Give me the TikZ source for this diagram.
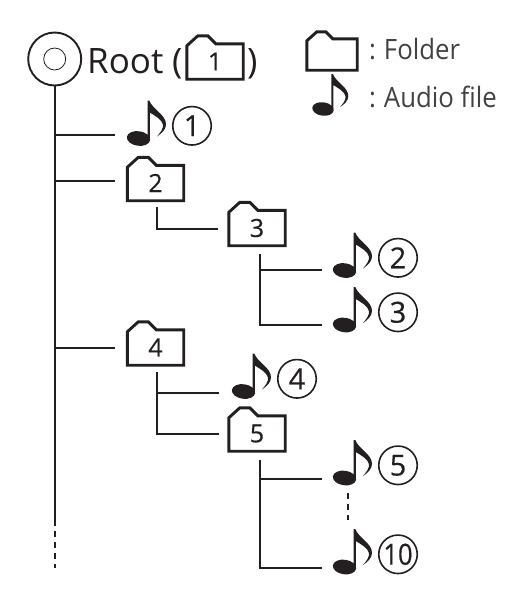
\documentclass[tikz,border=0pt]{standalone}
\usepackage{fontspec}
\setmainfont{Open Sans}
\definecolor{ink}{HTML}{231F20}
\tikzset{
  x=1pt,y=-1pt,
  line/.style={draw=ink,line width=2.2pt},
  linkdash/.style={draw=ink,line width=2.2pt,dash pattern=on 6pt off 5pt},
  outline/.style={draw=ink,line width=2.9pt,line join=miter,fill=white},
  foldernode/.style={inner sep=0pt,minimum width=56pt,minimum height=35pt,font=\fontsize{25}{27}\selectfont\addfontfeature{FakeBold=0.4},text=ink},
  notenode/.style={inner sep=0pt,minimum width=23pt,minimum height=15pt},
  numnode/.style={circle,draw=ink,line width=1.6pt,inner sep=0pt,minimum size=38.5pt,font=\fontsize{29}{31}\selectfont\addfontfeature{FakeBold=0.4},text=ink},
  legendtext/.style={anchor=base west,inner sep=0pt,font=\fontsize{28}{30}\selectfont\addfontfeature{FakeStretch=0.92},text=ink!85},
}
\newcommand{\foldershape}[1]{%
  \path[outline] (#1.south west) -- ([yshift=-2pt]#1.north west) -- ([xshift=11pt,yshift=8pt]#1.north west)
    -- ([xshift=21pt,yshift=8pt]#1.north west) -- ([xshift=29pt]#1.north west) -- (#1.north east) -- (#1.south east) -- cycle;}
\newcommand{\tfolder}[4]{\node[foldernode] (#1tmp) at (#2,#3) {};\foldershape{#1tmp}\node[foldernode] (#1) at (#2,#3) {#4};}
\newcommand{\notegl}[3][1]{%
  \begin{scope}[shift={(#2,#3)},scale=#1]
    \fill[ink,rotate=-8] (0,0) ellipse [x radius=11.7,y radius=7.3];
    \fill[ink] (9.2,0) -- (9.2,-38) -- (10.8,-38)
      .. controls (14,-29) and (27.5,-24) .. (27.5,-14)
      .. controls (27.5,-9) and (23,-5) .. (18.5,-2)
      .. controls (22,-6) and (25,-10) .. (24.5,-14)
      .. controls (23.5,-19) and (16,-23) .. (11.3,-26) -- (11.3,0) -- cycle;
  \end{scope}}
\newcommand{\tnote}[5]{%
  \node[notenode] (#1) at (#2,#3) {};\notegl{#2}{#3}
  \node[numnode] (#1c) at (#4,#3-12.7) {#5};}
\begin{document}
\begin{tikzpicture}
\useasboundingbox (0,0) rectangle (522,608);
% root
\node[circle,draw=ink,line width=1.9pt,minimum size=53pt,inner sep=0pt] (root) at (54.7,59) {};
\node[circle,draw=ink,line width=0.8pt,minimum size=22pt,inner sep=0pt] (rooti) at (54.7,59) {};
\node[anchor=base west,inner sep=0pt,font=\fontsize{35}{37}\selectfont,text=ink] (roottxt) at (87,73) {Root};
\node[anchor=base west,inner sep=0pt,font=\fontsize{35}{37}\selectfont,text=ink] (lp) at (172,73) {(};
\node[anchor=base west,inner sep=0pt,font=\fontsize{35}{37}\selectfont,text=ink] (rp) at (247,73) {)};
\tfolder{f1}{215}{61.5}{1}
% legend
\node[inner sep=0pt,minimum width=50pt,minimum height=31pt] (lf) at (332,54.5) {};
\path[outline] (lf.south west) -- ([yshift=-2pt]lf.north west) -- ([xshift=10pt,yshift=7pt]lf.north west)
  -- ([xshift=19pt,yshift=7pt]lf.north west) -- ([xshift=26pt]lf.north west) -- (lf.north east) -- (lf.south east) -- cycle;
\node[notenode] (ln) at (323,109) {};
\notegl[0.92]{323}{109}
\node[legendtext] (lt1) at (369,59) {:\hspace{-1pt} Folder};
\node[legendtext] (lt2) at (369,107) {:\hspace{-1pt} Audio file};
% notes and folders
\tnote{n1}{138.5}{138.5}{192}{1}
\tfolder{f2}{155.5}{183}{2}
\tfolder{f3}{257}{228}{3}
\tnote{n2}{344.5}{270.5}{398}{2}
\tnote{n3}{344.5}{325}{398}{3}
\tfolder{f4}{155.5}{347.5}{4}
\tnote{n4}{243.5}{391.5}{297}{4}
\tfolder{f5}{257}{433.5}{5}
\tnote{n5}{344.5}{478}{398}{5}
\tnote{n10}{344.5}{567}{398}{\addfontfeature{FakeStretch=0.88}10}
% connector ends
\coordinate (e1) at (115,135);
\coordinate (e2) at (115,180.7);
\coordinate (e4) at (115,348);
\coordinate (t1) at (54.7,520);
\coordinate (t2) at (54.7,568);
\coordinate (e3) at (218,228.7);
\coordinate (en2) at (322,270);
\coordinate (en3) at (322,325);
\coordinate (en4) at (219,393);
\coordinate (e5) at (219,434.3);
\coordinate (en5) at (322,479);
\coordinate (en10) at (322,568);
\coordinate (d1) at (348,493);
\coordinate (d2) at (348,520);
% connectors
\draw[line] (root.south) -- (t1);
\draw[linkdash] (t1) -- (t2);
\draw[line] (root.south |- e1) -- (e1);
\draw[line] (root.south |- e2) -- (e2);
\draw[line] (root.south |- e4) -- (e4);
\draw[line] ([xshift=1.5pt,yshift=-6pt]f2.south) |- (e3);
\draw[line] ([xshift=3pt,yshift=-8pt]f3.south) |- (en3);
\draw[line] ([xshift=3pt]f3.south |- en2) -- (en2);
\draw[line] ([xshift=1.5pt,yshift=-7pt]f4.south) |- (e5);
\draw[line] ([xshift=1.5pt]f4.south |- en4) -- (en4);
\draw[line] ([xshift=3pt,yshift=-9pt]f5.south) |- (en10);
\draw[line] ([xshift=3pt]f5.south |- en5) -- (en5);
\draw[linkdash] (d1) -- (d2);
\end{tikzpicture}
\end{document}
